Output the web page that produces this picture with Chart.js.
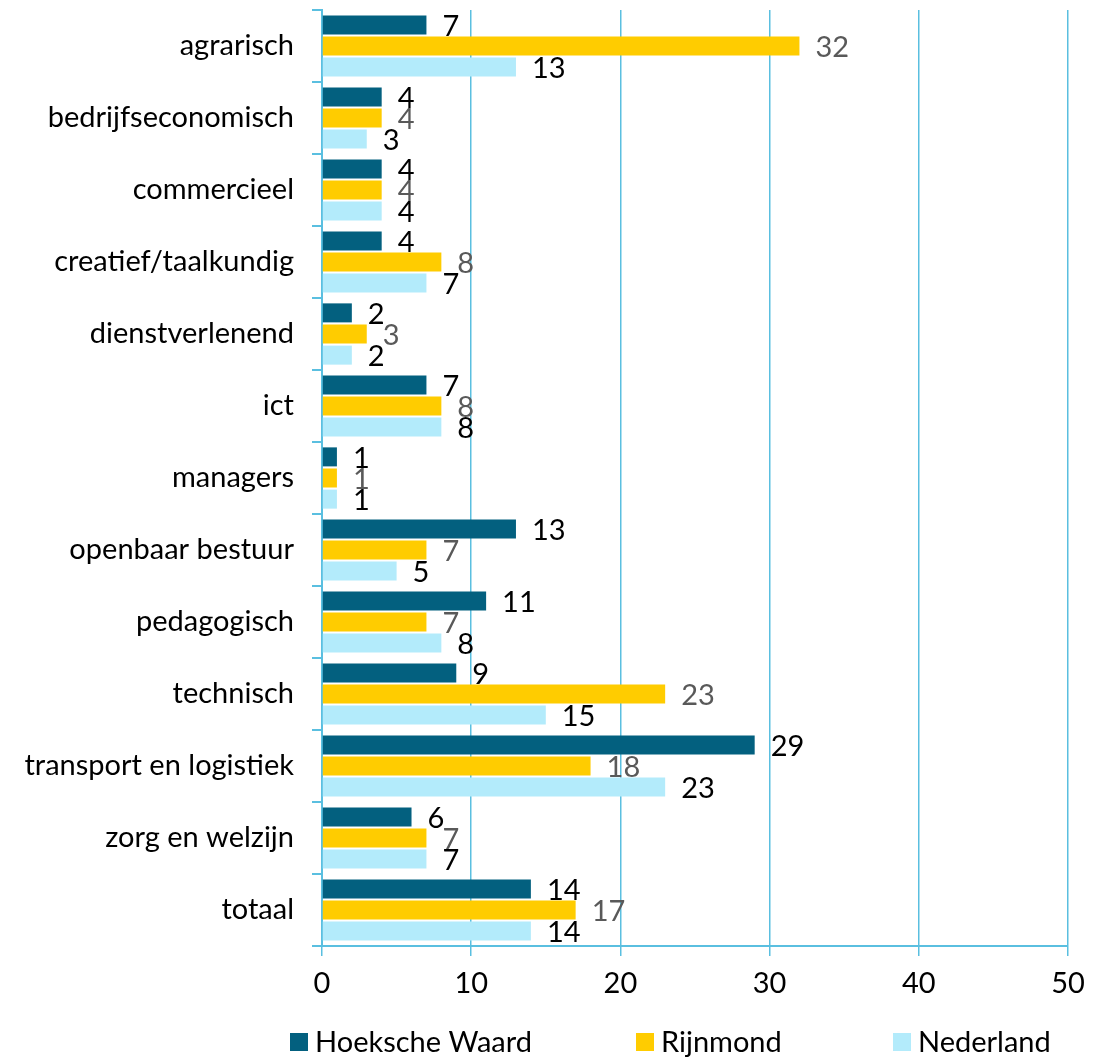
<!DOCTYPE html>
<html>
<head>
<meta charset="utf-8">
<script src="https://cdn.jsdelivr.net/npm/chart.js@4/dist/chart.umd.min.js"></script>
<style>
  html, body { margin: 0; padding: 0; background: #fff; }
  #wrap { width: 1098px; height: 1059px; }
</style>
</head>
<body>
<div id="wrap"><canvas id="chart" width="1098" height="1059"></canvas></div>
<script>
// categories and series
const categories = ['agrarisch', 'bedrijfseconomisch', 'commercieel', 'creatief/taalkundig', 'dienstverlenend',
    'ict', 'managers', 'openbaar bestuur', 'pedagogisch', 'technisch', 'transport en logistiek',
    'zorg en welzijn', 'totaal'];
const hoekscheWaard = [7, 4, 4, 4, 2, 7, 1, 13, 11, 9, 29, 6, 14];
const rijnmond = [32, 4, 4, 8, 3, 8, 1, 7, 7, 23, 18, 7, 17];
const nederland = [13, 3, 4, 7, 2, 8, 1, 5, 8, 15, 23, 7, 14];
const xTicks = [0, 10, 20, 30, 40, 50];

const FONT = 'Lato, "Open Sans", sans-serif';
const GRID = '#5ABFE0';

// value labels next to the bar ends
const valueLabels = {
    id: 'valueLabels',
    afterDatasetsDraw(chart) {
        const ctx = chart.ctx;
        ctx.save();
        ctx.font = '29px ' + FONT;
        ctx.textAlign = 'left';
        ctx.textBaseline = 'middle';
        chart.data.datasets.forEach(function (ds, i) {
            const meta = chart.getDatasetMeta(i);
            ctx.fillStyle = ds.labelColor;
            meta.data.forEach(function (bar, j) {
                ctx.fillText(ds.data[j], bar.x + 16, bar.y + 2);
            });
        });
        ctx.restore();
    }
};

// legend row under the axis
const bottomLegend = {
    id: 'bottomLegend',
    afterDraw(chart) {
        const ctx = chart.ctx;
        const xs = [290, 636, 893];
        const y = 1042;
        ctx.save();
        ctx.font = '29px ' + FONT;
        ctx.textAlign = 'left';
        ctx.textBaseline = 'middle';
        chart.data.datasets.forEach(function (ds, i) {
            ctx.fillStyle = ds.backgroundColor;
            ctx.fillRect(xs[i], y - 9, 18, 18);
            ctx.fillStyle = '#000';
            ctx.fillText(ds.label, xs[i] + 25, y + 1);
        });
        ctx.restore();
    }
};

new Chart(document.getElementById('chart'), {
    type: 'bar',
    data: {
        labels: categories,
        datasets: [
            { label: 'Hoeksche Waard', data: hoekscheWaard, backgroundColor: '#03607F', labelColor: '#000' },
            { label: 'Rijnmond', data: rijnmond, backgroundColor: '#FFCC00', labelColor: '#595959' },
            { label: 'Nederland', data: nederland, backgroundColor: '#B3EBFB', labelColor: '#000' }
        ]
    },
    options: {
        indexAxis: 'y',
        responsive: false,
        animation: false,
        barPercentage: 0.9,
        categoryPercentage: 0.88,
        layout: { padding: { top: 10, right: 30, bottom: 53, left: 0 } },
        scales: {
            x: {
                min: 0,
                max: 50,
                afterBuildTicks: function (scale) { scale.ticks = xTicks.map(function (v) { return { value: v }; }); },
                afterFit: function (scale) { scale.height = 60; },
                grid: { color: GRID, lineWidth: 1.5, tickLength: 10 },
                border: { color: GRID, width: 2 },
                ticks: { color: '#000', font: { family: FONT, size: 29 }, padding: 10 }
            },
            y: {
                afterFit: function (scale) {
                    scale.width = 322;
                    scale.paddingTop = 0;
                    scale.paddingBottom = 0;
                },
                grid: { offset: true, drawOnChartArea: false, color: GRID, lineWidth: 2, tickLength: 10 },
                border: { color: GRID, width: 2 },
                ticks: { color: '#000', font: { family: FONT, size: 29 }, padding: 18 }
            }
        },
        plugins: {
            legend: { display: false },
            tooltip: { enabled: false }
        }
    },
    plugins: [valueLabels, bottomLegend]
});
</script>
</body>
</html>
